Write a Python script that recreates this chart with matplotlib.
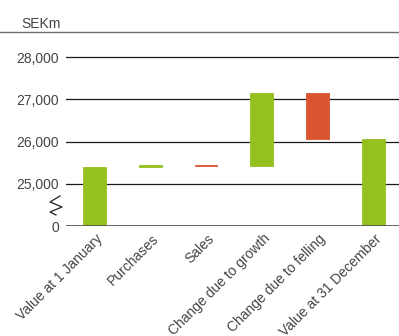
import numpy as np
import matplotlib
matplotlib.use("Agg")
import matplotlib.pyplot as plt
from matplotlib.lines import Line2D
from matplotlib.transforms import ScaledTranslation

plt.rcParams['font.family'] = ['Liberation Sans', 'DejaVu Sans']

# Forest asset value bridge, SEKm
categories = ["Value at 1 January", "Purchases", "Sales",
              "Change due to growth", "Change due to felling",
              "Value at 31 December"]
opening_value = 25400
changes = [40, -10, 1710, -1080]          # purchases, sales, growth, felling
y_ticks = [0, 25000, 26000, 27000, 28000]
y_tick_labels = ["0", "25,000", "26,000", "27,000", "28,000"]

GREEN = "#95C11F"
RED = "#DA5430"
TEXT = "#454545"

# Broken axis: 0..25,000 is compressed into one tick interval
BREAK = 25000.0
STEP = 1000.0


def fwd(v):
    v = np.asarray(v, dtype=float)
    return np.where(v >= BREAK, v, BREAK - STEP + v / BREAK * STEP)


def inv(u):
    u = np.asarray(u, dtype=float)
    return np.where(u >= BREAK, u, (u - (BREAK - STEP)) / STEP * BREAK)


W, H = 399, 336
fig = plt.figure(figsize=(W / 100, H / 100), dpi=100)
ax_left, ax_top, ax_bottom = 66, 32, 226
ax = fig.add_axes([ax_left / W, 1 - ax_bottom / H, 1 - ax_left / W,
                   (ax_bottom - ax_top) / H])
ax.set_yscale('function', functions=(fwd, inv))

# Waterfall geometry
levels = np.concatenate([[opening_value], opening_value + np.cumsum(changes)])
closing_value = levels[-1]
bottoms, heights, colors = [0], [opening_value], [GREEN]
for i, c in enumerate(changes):
    prev = levels[i]
    bottoms.append(prev if c >= 0 else prev + c)
    heights.append(abs(c))
    colors.append(GREEN if c >= 0 else RED)
bottoms.append(0)
heights.append(closing_value)
colors.append(GREEN)

x = np.arange(len(categories))
ax.bar(x, heights, bottom=bottoms, width=0.41, color=colors,
       edgecolor=colors, linewidth=0.6, zorder=3)

ax.set_xlim(-0.51, 5.46)
ax.set_ylim(0, 28592)
ax.set_yticks(y_ticks)
ax.set_yticklabels(y_tick_labels)
ax.tick_params(axis='y', length=0, pad=5, labelsize=10, labelcolor=TEXT)
ax.tick_params(axis='x', length=0, pad=4, labelsize=10, labelcolor=TEXT)
ax.set_xticks(x)
ax.set_xticklabels(categories, rotation=45, ha='right', va='top',
                   rotation_mode='anchor')
offset = ScaledTranslation(1 / 100, 0, fig.dpi_scale_trans)
for lbl in ax.get_xticklabels():
    lbl.set_transform(lbl.get_transform() + offset)

for s in ax.spines.values():
    s.set_visible(False)

for t in y_ticks[1:]:
    ax.axhline(t, color="#1a1a1a", lw=0.9, zorder=1)
ax.axhline(0, color="#555555", lw=2.0, zorder=4)

# Rule under the unit label
fig.add_artist(Line2D([0, 1], [1 - 32 / H, 1 - 32 / H],
                      transform=fig.transFigure, color="#6e6e6e", lw=1.0))
fig.text(21 / W, 1 - 28 / H, "SEKm", fontsize=10, color=TEXT,
         ha='left', va='baseline')

# Axis break mark between 0 and 25,000
zx = np.array([60, 50, 62, 50, 56]) / W
zy = 1 - np.array([196, 202, 207, 212, 215]) / H
fig.add_artist(Line2D(zx, zy, transform=fig.transFigure, color="#222222",
                      lw=0.9))

fig.savefig("out.png", dpi=100)
